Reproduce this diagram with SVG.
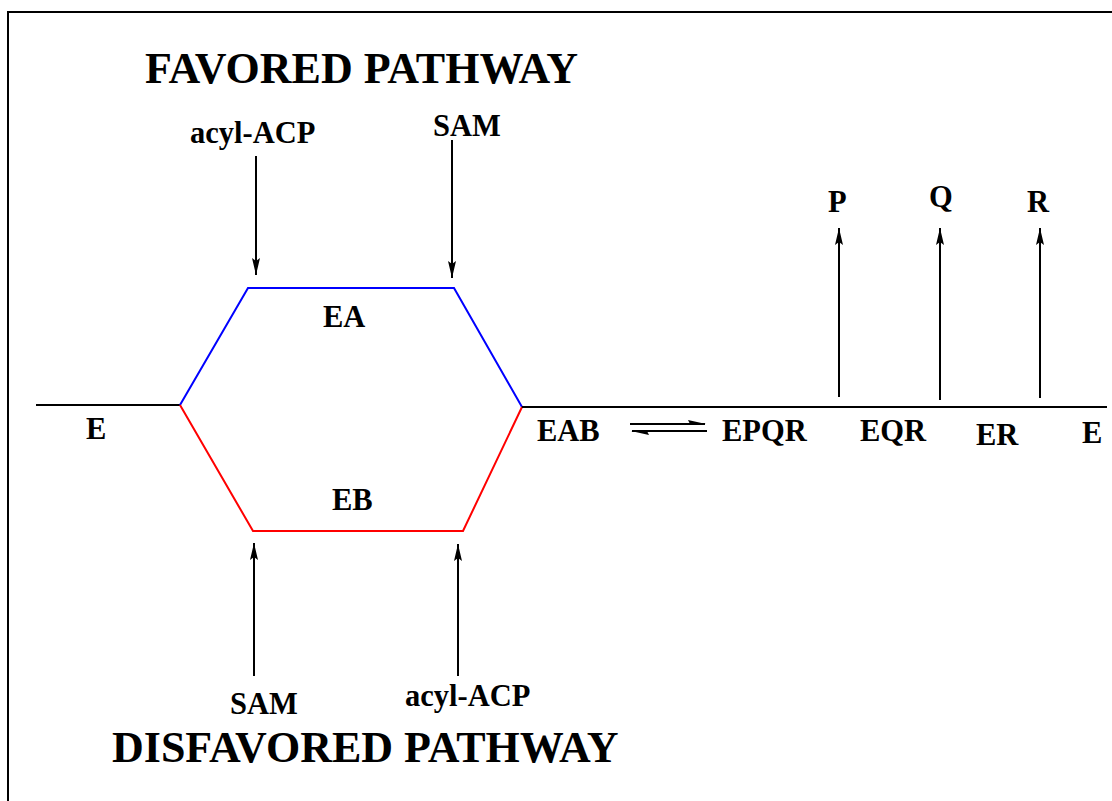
<svg xmlns="http://www.w3.org/2000/svg" width="1112" height="801" viewBox="0 0 1112 801">
<style>
text{font-family:"Liberation Serif","Times New Roman",serif;font-weight:bold;fill:#000}
.lbl{font-size:30.5px}
.title{font-size:44px}
.ln{stroke:#000;stroke-width:2;fill:none}
.arr{stroke:#000;stroke-width:2;fill:none;marker-end:url(#ah)}
</style>
<defs>
<marker id="ah" markerUnits="userSpaceOnUse" markerWidth="18" markerHeight="10" refX="17" refY="5" orient="auto">
<path d="M0,1 L17,5 L0,9 L3,5 z" fill="#000"/>
</marker>
</defs>
<rect x="8" y="12" width="1200" height="900" fill="#fff" stroke="#000" stroke-width="2"/>
<g id="connectors">
<line class="ln" x1="36" y1="405" x2="180" y2="405"/>
<polyline id="favored-path" points="180,405 248,288 454,288 522,407" fill="none" stroke="#0000ff" stroke-width="2"/>
<polyline id="disfavored-path" points="180,405 253,531 463,531 522,407" fill="none" stroke="#ff0000" stroke-width="2"/>
<line class="ln" x1="522" y1="407" x2="1107" y2="407"/>
<line class="arr" x1="256" y1="156" x2="256" y2="275"/>
<line class="arr" x1="452" y1="140" x2="452" y2="278"/>
<line class="arr" x1="254" y1="676" x2="254" y2="543"/>
<line class="arr" x1="458" y1="676" x2="458" y2="544"/>
<line class="arr" x1="839" y1="397" x2="839" y2="228"/>
<line class="arr" x1="940" y1="400" x2="940" y2="228"/>
<line class="arr" x1="1040" y1="398" x2="1040" y2="228"/>
<g id="equilibrium">
<line class="ln" x1="630" y1="424" x2="705" y2="424"/>
<polygon points="706,424 688,420 690,424" fill="#000"/>
<line class="ln" x1="632" y1="431" x2="707" y2="431"/>
<polygon points="631,431 649,435 647,431" fill="#000"/>
</g>
</g>
<g id="title-favored"><text class="title" x="145" y="83">FAVORED PATHWAY</text></g>
<g id="title-disfavored"><text class="title" x="112" y="762">DISFAVORED PATHWAY</text></g>
<g id="acylACP-top"><text class="lbl" x="190" y="143">acyl-ACP</text></g>
<g id="SAM-top"><text class="lbl" x="433" y="136">SAM</text></g>
<g id="EA"><text class="lbl" x="323" y="327">EA</text></g>
<g id="EB"><text class="lbl" x="332" y="510">EB</text></g>
<g id="E-left"><text class="lbl" x="86" y="439">E</text></g>
<g id="EAB"><text class="lbl" x="537" y="441">EAB</text></g>
<g id="EPQR"><text class="lbl" x="722" y="441">EPQR</text></g>
<g id="EQR"><text class="lbl" x="860" y="441">EQR</text></g>
<g id="ER"><text class="lbl" x="976" y="445">ER</text></g>
<g id="E-right"><text class="lbl" x="1082" y="443">E</text></g>
<g id="P"><text class="lbl" x="828" y="212">P</text></g>
<g id="Q"><text class="lbl" x="929" y="207">Q</text></g>
<g id="R"><text class="lbl" x="1027" y="212">R</text></g>
<g id="SAM-bottom"><text class="lbl" x="230" y="714">SAM</text></g>
<g id="acylACP-bottom"><text class="lbl" x="405" y="706">acyl-ACP</text></g>
</svg>
